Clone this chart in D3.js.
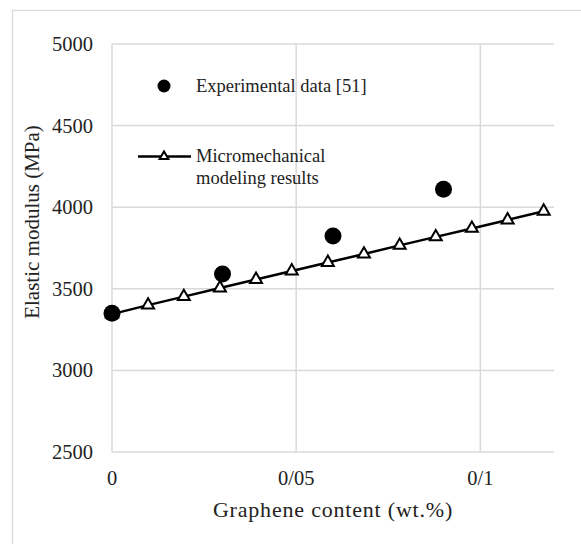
<!DOCTYPE html>
<html>
<head>
<meta charset="utf-8">
<script src="https://cdn.jsdelivr.net/npm/d3@7"></script>
<style>
  body { margin: 0; background: #fff; }
  svg { display: block; }
</style>
</head>
<body>
<script>
// experimental data [51]
var expX = [0, 0.03, 0.06, 0.09];
var expY = [3350, 3591, 3824, 4110];

// micromechanical modeling results
var modelX = [0, 0.0098, 0.0195, 0.0293, 0.0391, 0.0488, 0.0586, 0.0684,
              0.0781, 0.0879, 0.0977, 0.1074, 0.1172];
var modelY = [3345, 3400, 3452, 3505, 3557, 3609, 3661, 3713,
              3766, 3818, 3870, 3922, 3975];

var xTicks = [0, 0.05, 0.1];
var xTickLabels = ['0', '0/05', '0/1'];
var yTicks = [2500, 3000, 3500, 4000, 4500, 5000];

var w = 581,
    h = 544;
var font = '"Liberation Serif", "Times New Roman", serif';
var grid = '#d9d9d9';

var svg = d3.select('body')
            .append('svg')
            .attr('width', w)
            .attr('height', h);

// outer chart border (cut off at right and bottom)
svg.append('rect')
   .attr('x', 12.5)
   .attr('y', 10.5)
   .attr('width', 620)
   .attr('height', 600)
   .attr('fill', 'white')
   .attr('stroke', grid)
   .attr('stroke-width', 1.3);

var xScale = d3.scaleLinear()
               .domain([0, 0.12])
               .range([112, 554]);

var yScale = d3.scaleLinear()
               .domain([2500, 5000])
               .range([452, 44]);

// horizontal gridlines
svg.selectAll('line.hgrid')
   .data(yTicks)
   .enter()
   .append('line')
   .attr('class', 'hgrid')
   .attr('x1', xScale(0))
   .attr('x2', xScale(0.12))
   .attr('y1', function(d) { return yScale(d); })
   .attr('y2', function(d) { return yScale(d); })
   .attr('stroke', grid)
   .attr('stroke-width', 1.5);

// vertical gridlines
svg.selectAll('line.vgrid')
   .data(xTicks)
   .enter()
   .append('line')
   .attr('class', 'vgrid')
   .attr('x1', function(d) { return xScale(d); })
   .attr('x2', function(d) { return xScale(d); })
   .attr('y1', yScale(5000))
   .attr('y2', yScale(2500))
   .attr('stroke', grid)
   .attr('stroke-width', 1.5);

// y tick labels
svg.selectAll('text.ytick')
   .data(yTicks)
   .enter()
   .append('text')
   .attr('class', 'ytick')
   .text(function(d) { return d; })
   .attr('x', 93)
   .attr('y', function(d) { return yScale(d) + 7; })
   .attr('text-anchor', 'end')
   .attr('font-family', font)
   .attr('font-size', '20.5px')
   .attr('fill', '#222');

// x tick labels
svg.selectAll('text.xtick')
   .data(xTicks)
   .enter()
   .append('text')
   .attr('class', 'xtick')
   .text(function(d, i) { return xTickLabels[i]; })
   .attr('x', function(d) { return xScale(d); })
   .attr('y', 485)
   .attr('text-anchor', 'middle')
   .attr('font-family', font)
   .attr('font-size', '20.5px')
   .attr('fill', '#222');

// axis titles
svg.append('text')
   .text('Graphene content (wt.%)')
   .attr('x', 333)
   .attr('y', 517)
   .attr('text-anchor', 'middle')
   .attr('font-family', font)
   .attr('font-size', '22px')
   .attr('letter-spacing', '0.8px')
   .attr('fill', '#222');

svg.append('text')
   .text('Elastic modulus (MPa)')
   .attr('transform', 'translate(39,222) rotate(-90)')
   .attr('text-anchor', 'middle')
   .attr('font-family', font)
   .attr('font-size', '21px')
   .attr('fill', '#222');

// model line
var modelData = modelX.map(function(x, i) { return [x, modelY[i]]; });
var line = d3.line()
             .x(function(d) { return xScale(d[0]); })
             .y(function(d) { return yScale(d[1]); });

svg.append('path')
   .datum(modelData)
   .attr('d', line)
   .attr('fill', 'none')
   .attr('stroke', 'black')
   .attr('stroke-width', 2.5);

var tri = d3.symbol().type(d3.symbolTriangle).size(62);

svg.selectAll('path.tri')
   .data(modelData)
   .enter()
   .append('path')
   .attr('class', 'tri')
   .attr('d', tri)
   .attr('transform', function(d) {
      return 'translate(' + xScale(d[0]) + ',' + yScale(d[1]) + ')';
   })
   .attr('fill', 'white')
   .attr('stroke', 'black')
   .attr('stroke-width', 2);

// experimental points
svg.selectAll('circle.exp')
   .data(expX)
   .enter()
   .append('circle')
   .attr('class', 'exp')
   .attr('cx', function(d) { return xScale(d); })
   .attr('cy', function(d, i) { return yScale(expY[i]); })
   .attr('r', 8.5)
   .attr('fill', 'black');

// legend
var legend = svg.append('g');

legend.append('circle')
      .attr('cx', 164)
      .attr('cy', 86)
      .attr('r', 6.5)
      .attr('fill', 'black');

legend.append('text')
      .text('Experimental data [51]')
      .attr('x', 196)
      .attr('y', 92)
      .attr('font-family', font)
      .attr('font-size', '18.5px')
      .attr('fill', '#222');

legend.append('line')
      .attr('x1', 138)
      .attr('x2', 191)
      .attr('y1', 156.5)
      .attr('y2', 156.5)
      .attr('stroke', 'black')
      .attr('stroke-width', 2.5);

legend.append('path')
      .attr('d', d3.symbol().type(d3.symbolTriangle).size(34))
      .attr('transform', 'translate(164,156.5)')
      .attr('fill', 'white')
      .attr('stroke', 'black')
      .attr('stroke-width', 2);

legend.append('text')
      .text('Micromechanical')
      .attr('x', 196)
      .attr('y', 162)
      .attr('font-family', font)
      .attr('font-size', '18.5px')
      .attr('fill', '#222');

legend.append('text')
      .text('modeling results')
      .attr('x', 196)
      .attr('y', 183.5)
      .attr('font-family', font)
      .attr('font-size', '18.5px')
      .attr('fill', '#222');
</script>
</body>
</html>
